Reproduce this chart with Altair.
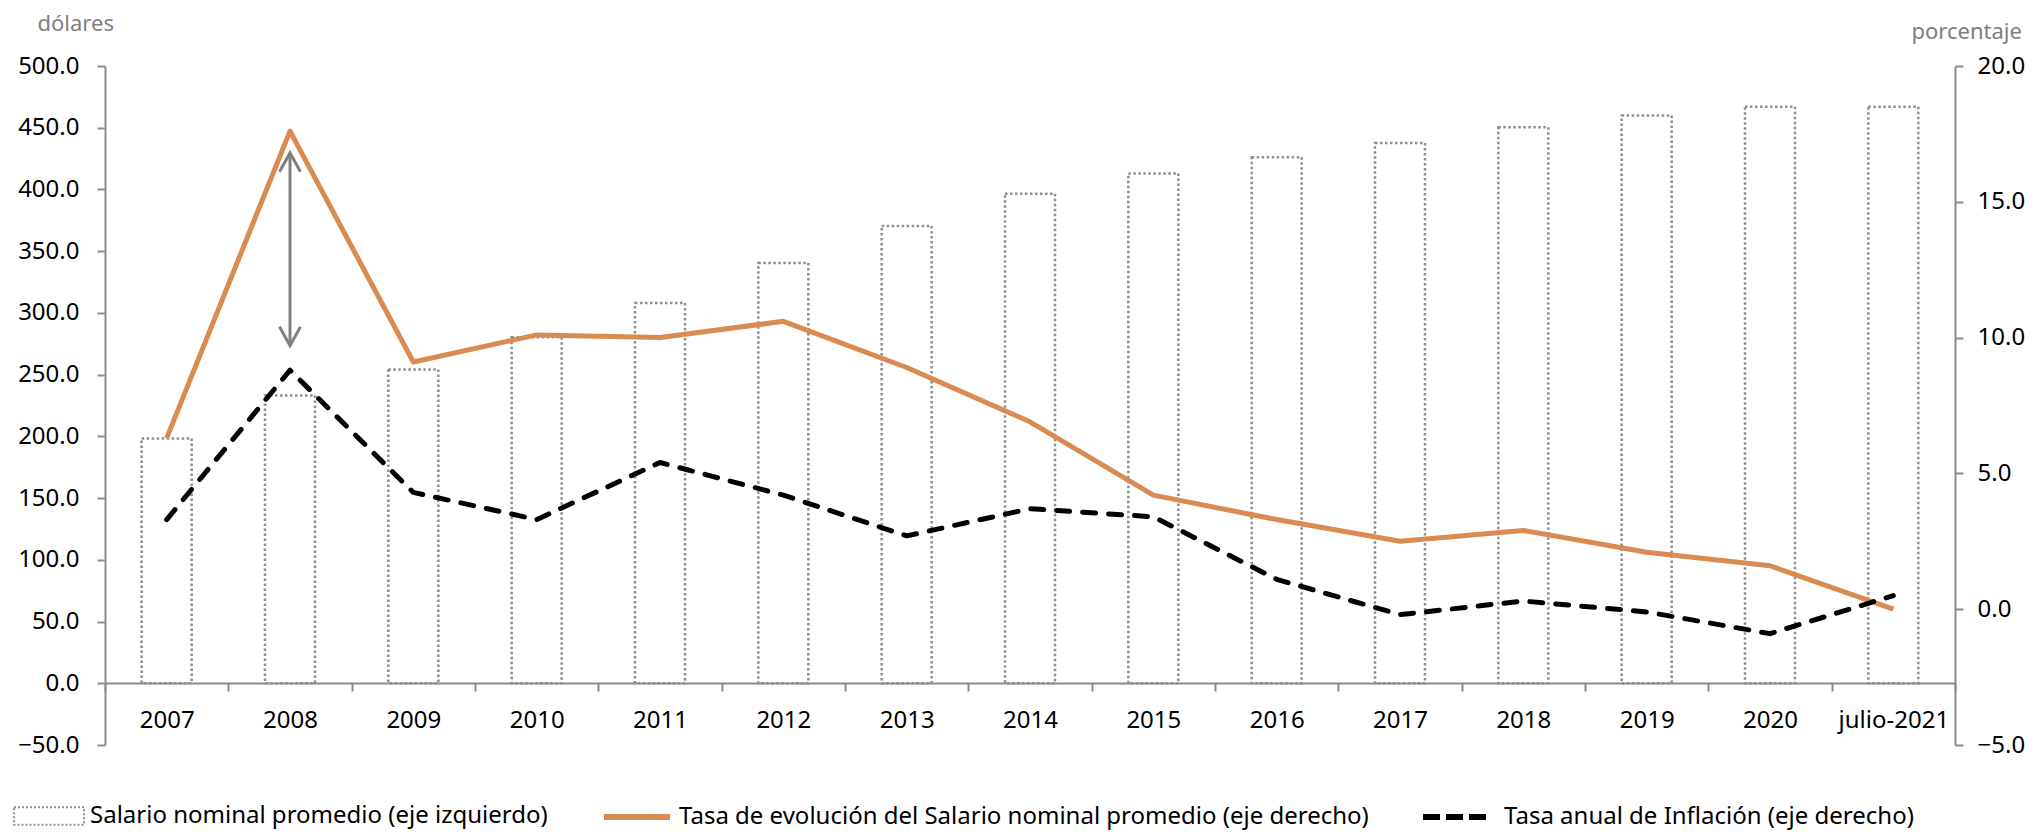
import altair as alt
import pandas as pd

# ---------------- data ----------------
categories = ["2007", "2008", "2009", "2010", "2011", "2012", "2013", "2014",
              "2015", "2016", "2017", "2018", "2019", "2020", "julio-2021"]
salario = [198.3, 233.1, 254.2, 280.3, 308.0, 340.5, 370.4, 396.5,
           413.0, 426.1, 437.7, 450.3, 459.9, 467.0, 467.0]
tasa_salario = [6.3, 17.6, 9.1, 10.1, 10.0, 10.6, 8.9, 6.9,
                4.2, 3.3, 2.5, 2.9, 2.1, 1.6, 0.0]
inflacion = [3.3, 8.8, 4.3, 3.3, 5.4, 4.2, 2.7, 3.7,
             3.4, 1.1, -0.2, 0.3, -0.1, -0.9, 0.5]

arrow_cat = ["2008"]
arrow_top = [16.8]
arrow_bottom = [9.7]

lab_bar = "Salario nominal promedio (eje izquierdo)"
lab_sal = "Tasa de evolución del Salario nominal promedio (eje derecho)"
lab_inf = "Tasa anual de Inflación (eje derecho)"

df = pd.DataFrame({
    "cat": categories, "salario": salario, "tasa": tasa_salario, "inf": inflacion,
    "s_bar": lab_bar, "s_sal": lab_sal, "s_inf": lab_inf,
})
arrow_df = pd.DataFrame({"cat": arrow_cat, "top": arrow_top, "bottom": arrow_bottom})

FONT = "Noto Sans"
AXIS_GRAY = "#8c8c8c"
BAR_GRAY = "#8f8f8f"
ORANGE = "#D98B51"
ARROW_GRAY = "#808080"
TITLE_GRAY = "#7f7f7f"

left_scale = alt.Scale(domain=[-50, 500], nice=False)
right_scale = alt.Scale(domain=[-5, 20], nice=False)

x_axis = alt.Axis(
    title=None, labelAngle=0, tickBand="extent", offset=-62,
    domainColor=AXIS_GRAY, domainWidth=2, tickColor=AXIS_GRAY, tickWidth=2,
    tickSize=8, labelFont=FONT, labelFontSize=24, labelColor="black",
    labelPadding=17,
)
x_enc = alt.X("cat:N", sort=categories,
              scale=alt.Scale(paddingInner=0, paddingOuter=0), axis=x_axis)


def legend(x, y, **kw):
    return alt.Legend(
        title=None, orient="none", legendX=x, legendY=y, padding=0,
        labelFont=FONT, labelFontSize=24, labelColor="black", labelLimit=1000,
        **kw,
    )


bars = alt.Chart(df).mark_bar(
    width=50, fill="transparent", strokeDash=[2.5, 2.5], strokeWidth=2.5
).encode(
    x=x_enc,
    y=alt.Y("salario:Q", scale=left_scale, axis=alt.Axis(
        orient="left", values=list(range(-50, 501, 50)), format=".1f",
        title="dólares", titleAngle=0, titleAlign="left", titleBaseline="middle",
        titleX=-68, titleY=-43, titleColor=TITLE_GRAY, titleFont=FONT,
        titleFontSize=22, titleFontWeight="normal",
        domainColor=AXIS_GRAY, domainWidth=2, tickColor=AXIS_GRAY, tickWidth=2,
        tickSize=8, labelFont=FONT, labelFontSize=24, labelColor="black",
        labelPadding=18,
    )),
    stroke=alt.Stroke("s_bar:N", scale=alt.Scale(range=[BAR_GRAY]), legend=legend(
        -92, 714, symbolType="M-1,-0.25L1,-0.25L1,0.25L-1,0.25Z", symbolSize=4900,
        symbolStrokeColor=BAR_GRAY, symbolFillColor="transparent",
        symbolDash=[2, 2], symbolStrokeWidth=2, labelOffset=5,
    )),
)

line_sal = alt.Chart(df).mark_line(strokeWidth=5, strokeJoin="round").encode(
    x=x_enc,
    y=alt.Y("tasa:Q", scale=right_scale, axis=alt.Axis(
        orient="right", values=[-5, 0, 5, 10, 15, 20], format=".1f",
        title="porcentaje", titleAngle=0, titleAlign="left", titleBaseline="middle",
        titleX=-44, titleY=-35, titleColor=TITLE_GRAY, titleFont=FONT,
        titleFontSize=22, titleFontWeight="normal",
        domainColor=AXIS_GRAY, domainWidth=2, tickColor=AXIS_GRAY, tickWidth=2,
        tickSize=8, labelFont=FONT, labelFontSize=24, labelColor="black",
        labelPadding=14,
    )),
    stroke=alt.Stroke("s_sal:N", scale=alt.Scale(range=[ORANGE]), legend=legend(
        496, 715, symbolType="stroke", symbolSize=4356, symbolStrokeColor=ORANGE,
        symbolStrokeWidth=6, labelOffset=6,
    )),
)

line_inf = alt.Chart(df).mark_line(
    strokeWidth=5, strokeDash=[13, 13], strokeCap="round", strokeJoin="round"
).encode(
    x=x_enc,
    y=alt.Y("inf:Q", scale=right_scale, axis=None),
    stroke=alt.Stroke("s_inf:N", scale=alt.Scale(range=["black"]), legend=legend(
        1315, 716, symbolType="stroke", symbolSize=4096, symbolStrokeColor="black",
        symbolStrokeWidth=6, symbolDash=[17, 6], labelOffset=14,
    )),
)

arrow_rule = alt.Chart(arrow_df).mark_rule(color=ARROW_GRAY, strokeWidth=3).encode(
    x=x_enc,
    y=alt.Y("top:Q", scale=right_scale, axis=None),
    y2="bottom:Q",
)
arrow_head_top = alt.Chart(arrow_df).mark_point(
    shape="M-1,1.8L0,0L1,1.8", filled=False, color=ARROW_GRAY,
    strokeWidth=3, size=441, opacity=1,
).encode(x=x_enc, y=alt.Y("top:Q", scale=right_scale, axis=None))
arrow_head_bot = alt.Chart(arrow_df).mark_point(
    shape="M-1,-1.8L0,0L1,-1.8", filled=False, color=ARROW_GRAY,
    strokeWidth=3, size=441, opacity=1,
).encode(x=x_enc, y=alt.Y("bottom:Q", scale=right_scale, axis=None))

chart = alt.layer(
    bars, line_sal, line_inf, arrow_rule, arrow_head_top, arrow_head_bot
).resolve_scale(
    y="independent", stroke="independent"
).properties(
    width=1850, height=679,
    autosize=alt.AutoSizeParams(type="none"),
    padding={"left": 97, "top": 58, "right": 70, "bottom": 87},
).configure_view(stroke=None).configure_axis(grid=False)

chart.save("out.html", embed_options={"renderer": "svg", "actions": False})
